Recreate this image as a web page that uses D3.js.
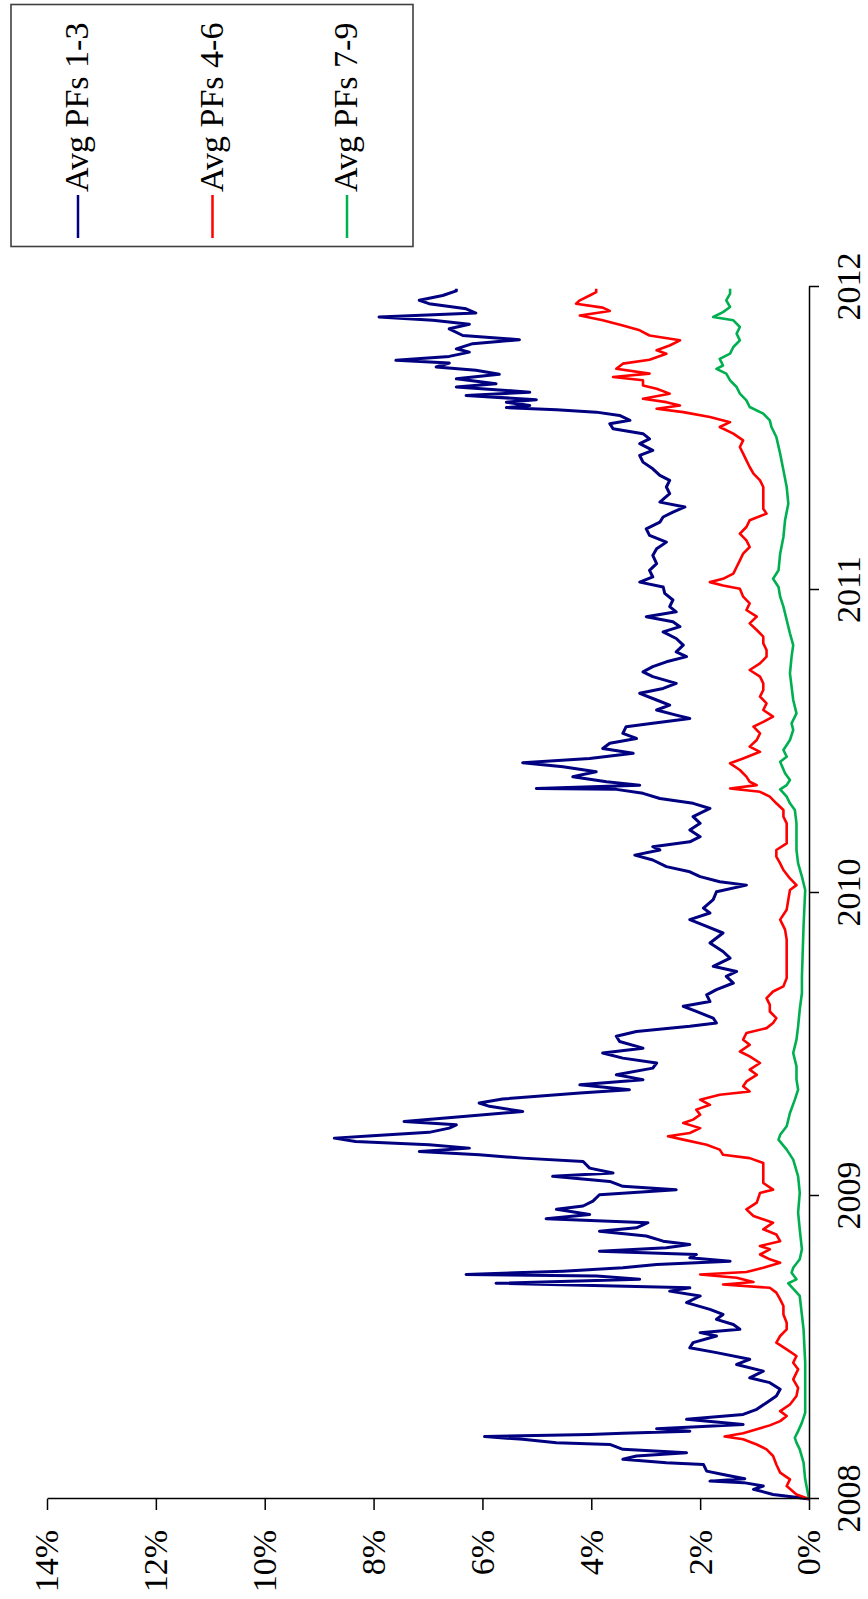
<!DOCTYPE html>
<html>
<head>
<meta charset="utf-8">
<script src="https://cdn.jsdelivr.net/npm/d3@7"></script>
<style>
  html, body { margin: 0; padding: 0; background: #fff; }
  svg { display: block; }
</style>
</head>
<body>
<svg id="chart" width="868" height="1599"></svg>
<script>
// ---------------- DATA ----------------
const seriesNames = ["Avg PFs 1-3", "Avg PFs 4-6", "Avg PFs 7-9"];
const yearTicks = [2008, 2009, 2010, 2011, 2012];
const pctTicks = [0, 2, 4, 6, 8, 10, 12, 14];

const pf13Dates = [
2008.000,2008.004,2008.015,2008.032,2008.043,2008.054,2008.059,2008.067,2008.081,2008.092,2008.114,2008.120,2008.131,2008.142,2008.153,2008.164,2008.180,2008.186,2008.197,2008.206,2008.213,2008.217,2008.224,2008.232,2008.246,2008.263,2008.279,2008.296,2008.318,2008.340,2008.362,2008.384,2008.400,2008.422,2008.444,2008.461,2008.483,2008.499,2008.516,2008.538,2008.549,2008.560,2008.576,2008.593,2008.609,2008.626,2008.648,2008.670,2008.686,2008.697,2008.712,2008.725,2008.736,2008.741,2008.752,2008.763,2008.774,2008.785,2008.796,2008.807,2008.818,2008.829,2008.840,2008.851,2008.868,2008.884,2008.895,2008.912,2008.925,2008.939,2008.956,2008.967,2008.983,
2009.004,2009.021,2009.032,2009.048,2009.065,2009.076,2009.092,2009.114,2009.125,2009.136,2009.147,2009.158,2009.169,2009.180,2009.191,2009.199,2009.210,2009.224,2009.235,2009.246,2009.263,2009.279,2009.296,2009.307,2009.320,2009.340,2009.351,2009.367,2009.384,2009.400,2009.422,2009.439,2009.455,2009.472,2009.488,2009.510,2009.527,2009.543,2009.560,2009.571,2009.587,2009.609,2009.626,2009.642,2009.664,2009.681,2009.703,2009.725,2009.741,2009.758,2009.785,2009.807,2009.835,2009.868,2009.890,2009.912,2009.934,2009.950,2009.978,
2010.004,2010.026,2010.037,2010.054,2010.070,2010.087,2010.109,2010.125,2010.142,2010.153,2010.169,2010.186,2010.208,2010.230,2010.252,2010.279,2010.296,2010.312,2010.329,2010.342,2010.345,2010.356,2010.367,2010.384,2010.400,2010.417,2010.430,2010.444,2010.461,2010.477,2010.494,2010.510,2010.527,2010.549,2010.560,2010.576,2010.587,2010.604,2010.620,2010.637,2010.659,2010.675,2010.692,2010.714,2010.730,2010.747,2010.763,2010.780,2010.796,2010.818,2010.840,2010.862,2010.879,2010.895,2010.912,2010.928,2010.945,2010.967,2010.989,
2011.010,2011.026,2011.043,2011.065,2011.087,2011.114,2011.136,2011.158,2011.180,2011.202,2011.224,2011.241,2011.257,2011.274,2011.290,2011.318,2011.340,2011.362,2011.378,2011.400,2011.422,2011.444,2011.461,2011.483,2011.499,2011.516,2011.532,2011.549,2011.560,2011.576,2011.587,2011.595,2011.602,2011.609,2011.620,2011.628,2011.642,2011.653,2011.670,2011.681,2011.697,2011.712,2011.725,2011.736,2011.749,2011.758,2011.771,2011.785,2011.796,2011.813,2011.826,2011.840,2011.862,2011.877,2011.890,2011.901,2011.914,2011.928,2011.945,2011.956,2011.972,2011.987,2011.994
];
const pf13Values = [
0.00,0.17,0.66,1.02,0.84,1.20,1.82,1.18,1.58,1.88,1.94,2.62,3.42,3.17,2.25,3.42,3.66,4.64,5.26,5.96,4.03,3.42,2.19,2.80,1.21,2.25,1.21,0.96,0.78,0.60,0.53,0.72,1.09,0.84,1.33,1.09,1.70,2.19,2.13,1.70,2.00,1.27,1.39,1.70,1.58,1.82,2.25,2.00,2.56,2.19,5.75,3.11,3.90,6.30,4.52,3.42,2.80,1.45,2.19,2.07,3.85,2.62,2.19,2.68,2.99,3.85,3.17,2.96,4.83,4.03,4.64,4.15,3.97,
3.85,2.44,3.42,3.66,4.71,3.60,4.03,4.15,5.26,6.06,7.16,6.24,6.98,8.33,8.72,8.02,6.98,6.61,6.48,7.44,6.30,5.26,5.87,6.06,5.63,4.21,3.30,4.21,3.05,3.54,2.87,2.80,3.42,3.79,3.05,3.48,3.54,3.17,2.19,1.70,1.76,2.07,2.31,1.82,1.88,1.70,1.39,1.52,1.33,1.76,1.45,1.58,1.82,1.58,1.88,2.19,1.82,1.94,1.76,
1.70,1.15,1.64,2.00,2.19,2.62,2.87,3.20,2.74,2.87,2.19,2.00,2.19,2.00,2.13,1.82,2.13,2.74,3.05,3.54,5.01,3.11,3.72,4.34,3.91,4.52,5.26,4.03,3.23,3.79,3.66,3.17,3.42,3.36,2.87,2.19,2.44,2.80,2.56,2.80,3.11,2.68,2.44,2.87,3.05,2.87,2.62,2.25,2.44,2.31,2.44,2.68,2.37,2.50,2.99,2.44,2.56,2.50,2.65,
2.68,3.11,2.87,2.93,2.80,2.87,2.80,2.62,2.93,2.99,2.74,2.68,2.50,2.28,2.74,2.56,2.62,2.56,2.74,2.87,3.05,3.11,2.87,3.11,2.93,3.05,3.60,3.66,3.29,3.48,3.91,4.64,5.56,5.13,5.56,5.01,6.30,5.13,6.48,5.75,6.48,5.69,6.12,6.85,6.61,7.59,6.61,6.24,6.48,6.18,5.32,6.36,6.61,6.24,6.91,7.90,6.12,6.30,6.98,7.16,6.73,6.48,6.48
];

const pf46Dates = [
2008.000,2008.015,2008.043,2008.065,2008.087,2008.114,2008.142,2008.164,2008.180,2008.197,2008.206,2008.217,2008.230,2008.243,2008.257,2008.274,2008.290,2008.312,2008.340,2008.367,2008.395,2008.428,2008.450,2008.472,2008.494,2008.516,2008.538,2008.560,2008.582,2008.609,2008.637,2008.659,2008.681,2008.697,2008.708,2008.716,2008.730,2008.741,2008.749,2008.763,2008.780,2008.791,2008.807,2008.824,2008.835,2008.851,2008.873,2008.890,2008.912,2008.934,2008.956,2008.978,
2009.010,2009.021,2009.043,2009.065,2009.109,2009.125,2009.136,2009.153,2009.169,2009.186,2009.197,2009.208,2009.224,2009.241,2009.252,2009.268,2009.285,2009.301,2009.318,2009.334,2009.345,2009.362,2009.378,2009.400,2009.417,2009.439,2009.461,2009.477,2009.499,2009.516,2009.538,2009.554,2009.571,2009.587,2009.609,2009.631,2009.653,2009.675,2009.692,2009.719,2009.747,2009.780,2009.813,2009.846,2009.879,2009.912,2009.945,2009.978,
2010.010,2010.026,2010.048,2010.076,2010.098,2010.120,2010.142,2010.164,2010.186,2010.230,2010.252,2010.274,2010.296,2010.318,2010.334,2010.345,2010.356,2010.367,2010.384,2010.406,2010.428,2010.444,2010.466,2010.483,2010.505,2010.527,2010.549,2010.565,2010.582,2010.604,2010.626,2010.648,2010.670,2010.692,2010.714,2010.736,2010.758,2010.780,2010.802,2010.824,2010.846,2010.868,2010.890,2010.912,2010.934,2010.956,2010.978,
2011.004,2011.015,2011.026,2011.037,2011.054,2011.076,2011.098,2011.120,2011.142,2011.164,2011.186,2011.208,2011.230,2011.252,2011.268,2011.290,2011.318,2011.340,2011.362,2011.384,2011.406,2011.428,2011.450,2011.472,2011.494,2011.516,2011.538,2011.554,2011.571,2011.587,2011.598,2011.609,2011.620,2011.631,2011.648,2011.664,2011.675,2011.692,2011.703,2011.714,2011.730,2011.747,2011.760,2011.780,2011.791,2011.807,2011.824,2011.840,2011.857,2011.873,2011.890,2011.906,2011.921,2011.932,2011.945,2011.956,2011.972,2011.983,2011.994
];
const pf46Values = [
0.00,0.23,0.41,0.35,0.53,0.60,0.66,0.78,0.96,1.21,1.55,1.21,0.96,0.72,0.53,0.41,0.53,0.35,0.23,0.20,0.29,0.20,0.29,0.23,0.41,0.60,0.53,0.41,0.41,0.47,0.47,0.53,0.60,0.72,1.58,1.02,1.33,2.00,1.15,0.84,0.53,0.72,0.90,0.72,0.90,0.53,0.60,0.84,0.66,1.02,1.15,0.96,
0.90,0.66,0.84,0.84,0.84,1.09,1.58,1.64,1.88,2.31,2.59,2.19,2.00,2.31,2.13,2.00,2.07,1.82,2.00,1.64,1.09,1.21,1.15,0.96,1.09,0.90,1.09,1.27,1.09,1.21,1.15,0.78,0.66,0.60,0.72,0.72,0.78,0.66,0.47,0.41,0.41,0.41,0.41,0.41,0.44,0.53,0.41,0.38,
0.35,0.23,0.35,0.47,0.53,0.60,0.60,0.41,0.41,0.41,0.47,0.47,0.60,0.72,0.90,1.45,0.96,1.09,1.15,1.27,1.45,1.21,0.90,1.09,0.96,0.90,1.02,0.84,0.66,0.84,0.78,0.90,0.84,0.84,0.90,1.09,0.90,0.78,0.78,0.84,0.84,0.96,1.09,0.96,1.15,1.09,1.21,
1.27,1.58,1.82,1.58,1.39,1.33,1.27,1.21,1.09,1.15,1.27,1.15,1.09,0.78,0.84,0.84,0.84,0.84,0.90,1.02,1.09,1.15,1.21,1.27,1.21,1.39,1.64,1.45,1.82,2.31,2.80,2.37,2.62,3.05,2.56,2.80,3.05,3.05,3.60,2.93,3.54,3.42,2.93,2.62,2.80,2.56,2.37,2.93,3.11,3.42,3.79,4.21,3.66,3.79,4.28,4.21,4.03,3.91,3.91
];

const pf79Dates = [
2008.000,2008.065,2008.120,2008.164,2008.186,2008.202,2008.224,2008.252,2008.285,2008.340,2008.450,2008.560,2008.670,2008.712,2008.725,2008.747,2008.763,2008.791,2008.824,2008.890,2008.945,
2009.010,2009.065,2009.120,2009.153,2009.186,2009.202,2009.230,2009.274,2009.318,2009.351,2009.384,2009.428,2009.472,2009.516,2009.560,2009.615,2009.670,2009.725,2009.780,2009.890,
2010.010,2010.054,2010.098,2010.142,2010.230,2010.274,2010.296,2010.318,2010.342,2010.356,2010.373,2010.395,2010.433,2010.450,2010.472,2010.505,2010.538,2010.560,2010.593,2010.637,2010.681,2010.725,2010.780,2010.818,2010.857,2010.901,2010.945,2010.978,
2011.010,2011.037,2011.065,2011.120,2011.175,2011.230,2011.285,2011.340,2011.395,2011.450,2011.505,2011.538,2011.560,2011.582,2011.604,2011.626,2011.648,2011.670,2011.692,2011.714,2011.730,2011.741,2011.763,2011.780,2011.802,2011.824,2011.846,2011.868,2011.890,2011.901,2011.917,2011.934,2011.956,2011.978,2011.994
];
const pf79Values = [
0.00,0.07,0.10,0.17,0.23,0.26,0.20,0.13,0.07,0.07,0.07,0.10,0.17,0.38,0.23,0.32,0.29,0.17,0.13,0.17,0.20,
0.17,0.20,0.29,0.41,0.56,0.53,0.41,0.35,0.26,0.20,0.23,0.23,0.29,0.23,0.20,0.17,0.13,0.13,0.12,0.10,
0.07,0.13,0.20,0.23,0.23,0.26,0.35,0.41,0.53,0.41,0.35,0.44,0.53,0.41,0.47,0.35,0.29,0.32,0.23,0.29,0.32,0.35,0.32,0.29,0.35,0.41,0.47,0.53,
0.56,0.66,0.56,0.53,0.47,0.44,0.38,0.41,0.47,0.53,0.60,0.69,0.72,0.84,1.09,1.15,1.27,1.33,1.45,1.52,1.70,1.58,1.64,1.45,1.39,1.27,1.33,1.27,1.39,1.76,1.58,1.45,1.52,1.45,1.45
];

const seriesColors = ["#000080", "#ff0000", "#00b050"];

// ---------------- CHART ----------------
const FONT = "'Liberation Serif', 'Times New Roman', Times, serif";
const svg = d3.select("#chart");
svg.append("rect").attr("width", 868).attr("height", 1599).attr("fill", "#fff");

// The chart is a standard time-series chart rotated by -90 degrees.
const W = 1212, H = 762;
const g = svg.append("g").attr("transform", "translate(47,1499) rotate(-90)");

const x = d3.scaleLinear().domain([2008, 2012]).range([0, W]);
const y = d3.scaleLinear().domain([0, 14]).range([H, 0]);

const series = [
  { dates: pf13Dates, values: pf13Values, width: 3 },
  { dates: pf46Dates, values: pf46Values, width: 2.6 },
  { dates: pf79Dates, values: pf79Values, width: 2.6 }
];

const line = d3.line()
  .x(d => x(d[0]))
  .y(d => y(d[1]));

series.forEach((s, i) => {
  const pts = s.dates.map((t, k) => [t, s.values[k]]);
  g.append("path")
    .datum(pts)
    .attr("fill", "none")
    .attr("stroke", seriesColors[i])
    .attr("stroke-width", s.width)
    .attr("stroke-linejoin", "round")
    .attr("d", line);
});

// Axes
const xAxis = g.append("g")
  .attr("transform", `translate(0,${H})`)
  .call(d3.axisBottom(x).tickValues(yearTicks).tickFormat(d3.format("d"))
        .tickSize(10).tickSizeOuter(0).tickPadding(17));
const yAxis = g.append("g")
  .call(d3.axisLeft(y).tickValues(pctTicks).tickFormat(d => d + "%")
        .tickSize(11).tickSizeOuter(0).tickPadding(20));

[xAxis, yAxis].forEach(ax => {
  ax.selectAll("path.domain").attr("stroke", "#000").attr("stroke-width", 1.5);
  ax.selectAll(".tick line").attr("stroke", "#000").attr("stroke-width", 1.5);
  ax.selectAll("text")
    .attr("font-family", FONT)
    .attr("font-size", 34)
    .attr("fill", "#000");
});

// Legend
const legend = svg.append("g");
legend.append("rect")
  .attr("x", 11).attr("y", 4.5).attr("width", 402).attr("height", 242)
  .attr("fill", "#fff").attr("stroke", "#404040").attr("stroke-width", 1.6);

const legendX = d3.scalePoint().domain(seriesNames).range([78, 347]);
seriesNames.forEach((name, i) => {
  const lx = legendX(name);
  legend.append("line")
    .attr("x1", lx).attr("x2", lx).attr("y1", 195).attr("y2", 238)
    .attr("stroke", seriesColors[i]).attr("stroke-width", 2.5);
  legend.append("text")
    .attr("transform", `translate(${lx + 10},192) rotate(-90)`)
    .attr("font-family", FONT)
    .attr("font-size", 34)
    .attr("fill", "#000")
    .text(name);
});
</script>
</body>
</html>
